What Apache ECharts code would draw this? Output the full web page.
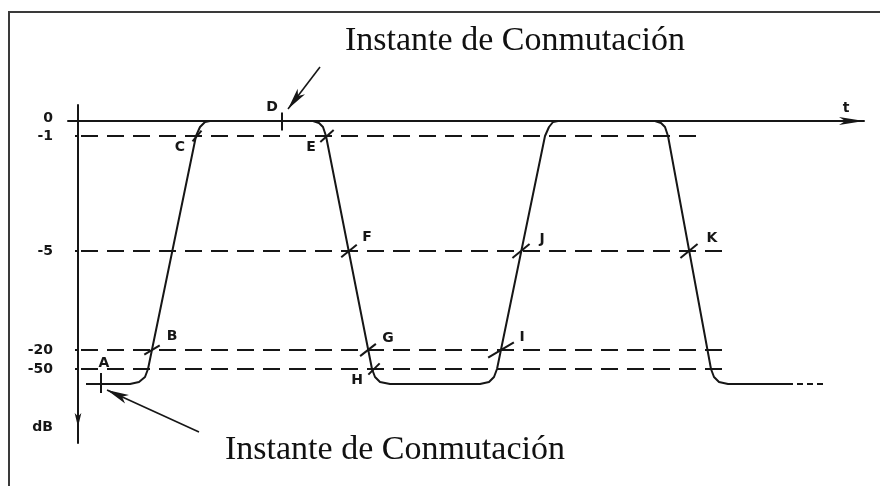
<!DOCTYPE html>
<html lang="es">
<head>
<meta charset="UTF-8">
<title>Instante de Conmutación</title>
<script src="https://cdn.jsdelivr.net/npm/echarts@6/dist/echarts.min.js"></script>
<style>
    html, body { margin: 0; padding: 0; background: #fff; }
    #chart { width: 880px; height: 486px; }
</style>
</head>
<body>
<div id="chart"></div>
<script>
    // niveles del eje vertical (esquemático, no lineal): etiqueta y profundidad bajo el eje t
    var tickLabels = ['0', '-1', '-5', '-20', '-50', 'dB'];
    var tickDepth = [-3, 15, 130, 229, 248, 306];

    // líneas de referencia discontinuas: profundidad y t donde terminan
    var guideDepth = [15, 130, 229, 248];
    var guideEnd = [622, 644, 650, 650];

    // forma de onda (t, profundidad)
    var wave = [
        [8, 263], [52, 263], [61, 261], [67, 256], [70, 248],
        [118, 15], [122, 6], [127, 1], [132, 0],
        [235, 0], [241, 2], [245, 6], [248, 15],
        [294, 248], [297, 256], [302, 261], [312, 263],
        [402, 263], [411, 261], [416, 256], [419, 248],
        [467, 15], [471, 6], [475, 1], [480, 0],
        [577, 0], [583, 2], [587, 6], [590, 15],
        [633, 248], [636, 256], [641, 261], [650, 263],
        [709, 263]
    ];
    var waveTail = [[709, 263], [745, 263]];

    // puntos de cruce marcados
    var crossNames = ['B', 'C', 'E', 'F', 'G', 'H', 'I', 'J', 'K'];
    var crossPoints = [[74, 229], [119, 15], [249, 15], [271, 130], [290, 229], [296, 248], [423, 229], [443, 130], [611, 130]];

    // instantes de conmutación
    var switchNames = ['A', 'D'];
    var switchPoints = [[23, 262], [204, 0.5]];
    var switchArrows = [[[121, 311], [29, 269]], [[242, -54], [210, -12]]];

    var titleText = 'Instante de Conmutación';

    var ink = '#161616';
    var markFont = { fontFamily: 'DejaVu Sans', fontWeight: 'bold', fontSize: 14, color: ink };

    // giro, largo y desplazamiento de la letra de cada marca
    var crossStyle = {
        B: { rot: 31, len: 18, off: [20, -14] },
        C: { rot: 50, len: 14, off: [-17, 11] },
        E: { rot: 42, len: 18, off: [-16, 11] },
        F: { rot: 39, len: 20, off: [18, -14] },
        G: { rot: 38, len: 20, off: [20, -12] },
        H: { rot: 45, len: 16, off: [-17, 11] },
        I: { rot: 31, len: 30, off: [21, -13] },
        J: { rot: 39, len: 22, off: [21, -12] },
        K: { rot: 39, len: 22, off: [23, -13] }
    };
    var switchStyle = {
        A: { len: 20, off: [3, -20] },
        D: { len: 18, off: [-10, -14] }
    };

    var series = [];

    guideDepth.forEach(function (d, i) {
        series.push({
            type: 'line',
            data: [[3, d], [guideEnd[i], d]],
            symbol: 'none',
            silent: true,
            clip: false,
            lineStyle: { color: ink, width: 2, type: [17, 9] }
        });
    });

    series.push({
        type: 'line',
        data: wave,
        symbol: 'none',
        clip: false,
        lineStyle: { color: ink, width: 2 }
    });
    series.push({
        type: 'line',
        data: waveTail,
        symbol: 'none',
        clip: false,
        lineStyle: { color: ink, width: 2, type: [6, 4] }
    });

    // marcas inclinadas en los cruces
    series.push({
        type: 'scatter',
        symbol: 'rect',
        clip: false,
        itemStyle: { color: ink, opacity: 1 },
        data: crossPoints.map(function (p, i) {
            var s = crossStyle[crossNames[i]];
            return { value: p, symbolSize: [s.len, 2], symbolRotate: s.rot };
        })
    });
    // marcas verticales de los instantes de conmutación
    series.push({
        type: 'scatter',
        symbol: 'rect',
        clip: false,
        itemStyle: { color: ink, opacity: 1 },
        data: switchPoints.map(function (p, i) {
            return { value: p, symbolSize: [2, switchStyle[switchNames[i]].len] };
        })
    });

    // letras
    var letters = [];
    crossPoints.forEach(function (p, i) {
        letters.push({ name: crossNames[i], value: p, label: { offset: crossStyle[crossNames[i]].off } });
    });
    switchPoints.forEach(function (p, i) {
        letters.push({ name: switchNames[i], value: p, label: { offset: switchStyle[switchNames[i]].off } });
    });
    series.push({
        type: 'scatter',
        symbolSize: 0,
        clip: false,
        itemStyle: { color: ink, opacity: 1 },
        label: Object.assign({ show: true, position: 'inside', formatter: '{b}', opacity: 1 }, markFont),
        data: letters
    });

    // flechas
    series.push({
        type: 'lines',
        coordinateSystem: 'cartesian2d',
        clip: false,
        symbol: ['none', 'arrow'],
        symbolSize: [[1, 1], [7, 22]],
        lineStyle: { color: ink, width: 1.6, opacity: 1, curveness: 0 },
        data: switchArrows.map(function (c) { return { coords: c }; })
    });

    var chart = echarts.init(document.getElementById('chart'));

    chart.setOption({
        backgroundColor: '#ffffff',
        animation: false,
        title: [
            {
                text: titleText, left: 345, top: 24, padding: 0,
                textStyle: { fontFamily: 'Liberation Serif', fontWeight: 'normal', fontSize: 34, color: '#111' }
            },
            {
                text: titleText, left: 225, top: 433, padding: 0,
                textStyle: { fontFamily: 'Liberation Serif', fontWeight: 'normal', fontSize: 34, color: '#111' }
            }
        ],
        graphic: [{
            type: 'polyline',
            shape: { points: [[9, 486], [9, 12], [880, 12]] },
            style: { stroke: '#3a3a3a', lineWidth: 2, fill: null }
        }],
        grid: { left: 68, right: 16, top: 105, bottom: 43, outerBoundsMode: 'none' },
        xAxis: {
            type: 'value',
            min: -10,
            max: 786,
            name: 't',
            nameLocation: 'end',
            nameGap: -18,
            nameTextStyle: Object.assign({ align: 'center', verticalAlign: 'bottom', padding: [0, 0, 6, 0] }, markFont),
            axisLine: {
                onZero: true,
                symbol: ['none', 'arrow'],
                symbolSize: [6, 25],
                lineStyle: { color: ink, width: 2 }
            },
            axisTick: { show: false },
            axisLabel: { show: false },
            splitLine: { show: false }
        },
        yAxis: {
            type: 'value',
            inverse: true,
            min: -16,
            max: 322,
            axisLine: {
                onZero: true,
                symbol: ['arrow', 'none'],
                symbolSize: [5, 14],
                symbolOffset: [16, 0],
                lineStyle: { color: ink, width: 2 }
            },
            axisTick: { show: true, customValues: guideDepth, length: 3, lineStyle: { color: ink, width: 2 } },
            axisLabel: Object.assign({
                customValues: tickDepth,
                margin: 15,
                formatter: function (v) {
                    var i = tickDepth.indexOf(v);
                    return i < 0 ? '' : tickLabels[i];
                }
            }, markFont),
            splitLine: { show: false }
        },
        series: series
    });
</script>
</body>
</html>
